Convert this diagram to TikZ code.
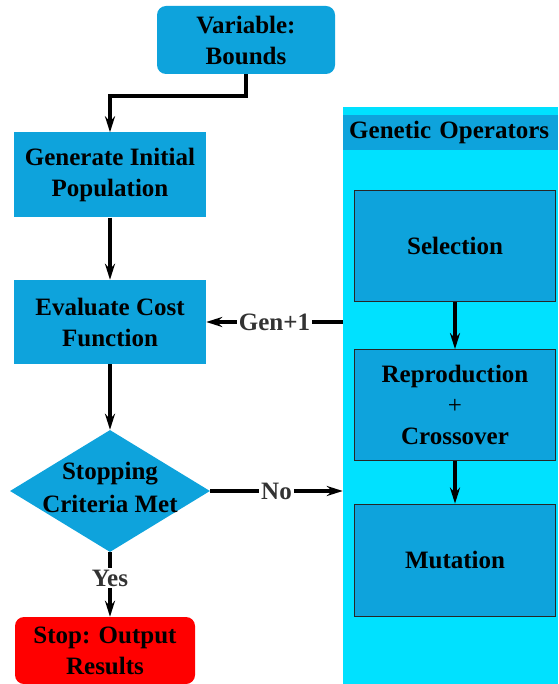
\documentclass[tikz,border=0pt]{standalone}
\usepackage{fontspec}
\setmainfont{Liberation Serif}
\usepackage{tikz}
\usetikzlibrary{arrows.meta,shapes.geometric}
\definecolor{boxblue}{RGB}{14,163,220}
\definecolor{panelcyan}{RGB}{0,225,255}
\definecolor{stopred}{RGB}{255,0,0}
\definecolor{labelgray}{RGB}{51,51,51}
\tikzstyle{flowbox} = [fill=boxblue, rectangle, inner sep=0pt, align=center,
    font=\fontsize{25}{31}\selectfont\bfseries]
\tikzstyle{opbox} = [flowbox, draw=black!85, line width=0.8pt,
    minimum width=201pt, minimum height=111pt]
\tikzstyle{flowline} = [line width=3.5pt, -{Stealth[length=16pt,width=10pt]}]
\tikzstyle{flowlabel} = [fill=white, text=labelgray, inner sep=2pt,
    font=\fontsize{25}{31}\selectfont\bfseries]

\begin{document}
\begin{tikzpicture}[x=1pt,y=-1pt]
    \useasboundingbox (0,0) rectangle (558,684);
    % genetic operators panel
    \node [fill=panelcyan, inner sep=0pt, minimum width=215pt, minimum height=577pt] (ops) at (450.5,395.5) {};
    \node [flowbox, anchor=west, minimum width=215pt, minimum height=35pt, text width=203pt, align=left] (opstitle) at (343,132.5) {Genetic Operators};
    \node [opbox] (sel) at (455,246) {Selection};
    \node [opbox] (repro) at (455,405) {Reproduction\\{\mdseries +}\\Crossover};
    \node [opbox, minimum height=112pt] (mut) at (455,560) {Mutation};
    % main flow
    \node [flowbox, rounded corners=9pt, minimum width=178pt, minimum height=68pt] (var) at (246,40) {Variable:\\Bounds};
    \node [flowbox, minimum width=192pt, minimum height=85pt] (gen) at (110,175) {Generate Initial\\Population};
    \node [flowbox, minimum width=192pt, minimum height=84pt] (eval) at (110,322) {Evaluate Cost\\Function};
    \node [diamond, fill=boxblue, inner sep=0pt, minimum width=200pt, minimum height=122pt] (crit) at (110,491) {};
    \node [align=center, font=\fontsize{25}{33}\selectfont\bfseries, yshift=4pt] (critlabel) at (crit) {Stopping\\Criteria Met};
    \node [flowbox, fill=stopred, rounded corners=9pt, minimum width=180pt, minimum height=67pt] (stop) at (105,650.5) {Stop: Output\\Results};
    % connectors
    \draw [flowline] (var.south) -- ++(0,22) -| (gen.north);
    \draw [flowline] (gen) -- (eval);
    \draw [flowline] (eval) -- (crit.north);
    \draw [flowline] (crit.south) -- node[flowlabel, pos=0.4] {Yes} (crit.south |- stop.north);
    \draw [flowline] (crit.east) -- node[flowlabel] {No} (crit.east -| ops.west);
    \draw [flowline] (ops.west |- eval.east) -- node[flowlabel] {Gen+1} (eval.east);
    \draw [flowline] (sel) -- (repro);
    \draw [flowline] (repro) -- (mut);
\end{tikzpicture}
\end{document}
